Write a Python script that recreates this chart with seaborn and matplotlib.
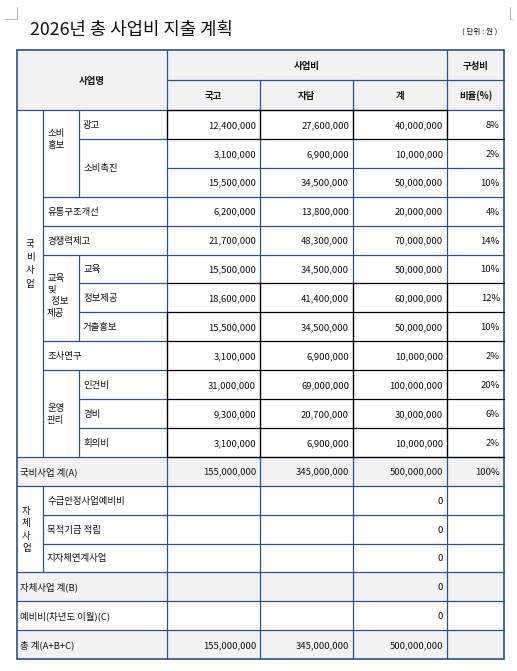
import matplotlib
matplotlib.use("Agg")
import matplotlib.pyplot as plt
import seaborn as sns
from matplotlib.patches import Rectangle

sns.set_style("white")
plt.rcParams['font.family'] = ['Noto Sans CJK KR', 'DejaVu Sans']

title = "2026년 총 사업비 지출 계획"
unit = "( 단위 : 원 )"
# national project rows
gov = [12400000, 3100000, 15500000, 6200000, 21700000, 15500000, 18600000, 15500000, 3100000, 31000000, 9300000, 3100000]
own = [27600000, 6900000, 34500000, 13800000, 48300000, 34500000, 41400000, 34500000, 6900000, 69000000, 20700000, 6900000]
tot = [40000000, 10000000, 50000000, 20000000, 70000000, 50000000, 60000000, 50000000, 10000000, 100000000, 30000000, 10000000]
pct = ["8%", "2%", "10%", "4%", "14%", "10%", "12%", "10%", "2%", "20%", "6%", "2%"]
sum_a = [155000000, 345000000, 500000000, "100%"]
self_items = ["수급안정사업예비비", "목적기금 적립", "지자체연계사업"]
self_tot = [0, 0, 0]
sum_b = 0
reserve = 0
grand = [155000000, 345000000, 500000000]

W, H = 517, 671
fig = plt.figure(figsize=(W/100, H/100), dpi=100)
ax = fig.add_axes([0, 0, 1, 1])
ax.set_xlim(0, W); ax.set_ylim(H, 0); ax.axis('off')

X = [17, 43, 79, 167, 260, 353, 447, 504]
top, h0 = 50, 30
rh = 28.9
Y = [top, top+h0, top+2*h0] + [top+2*h0+rh*(i+1) for i in range(19)]
blue = '#2f4f8f'
gray = '#f2f2f2'
fs = 6.8

def fill(x0, y0, x1, y1, c=gray):
    ax.add_patch(Rectangle((x0, y0), x1-x0, y1-y0, facecolor=c, edgecolor='none', zorder=0))
def hl(y, x0, x1, c=blue, lw=0.9):
    ax.plot([x0, x1], [y, y], color=c, lw=lw, zorder=2)
def vl(x, y0, y1, c=blue, lw=0.9):
    ax.plot([x, x], [y0, y1], color=c, lw=lw, zorder=2)
def txt(x, y, s, ha='left', **k):
    ax.text(x, y + 1, s, ha=ha, va='center', fontsize=fs, color='#111', **k)
def fmt(v):
    return f"{v:,}" if isinstance(v, int) else v

ax.text(30, 30, title, fontsize=12.8, va='center', ha='left', color='#111')
ax.text(497, 32, unit, fontsize=5.5, va='center', ha='right', color='#111')

# fills
fill(X[0], Y[0], X[7], Y[2])
for r in (12, 16, 18):
    fill(X[0], Y[2+r], X[7], Y[3+r])

# header
txt((X[0]+X[3])/2, (Y[0]+Y[2])/2, "사업명", ha='center', fontweight='bold')
txt((X[3]+X[6])/2, (Y[0]+Y[1])/2, "사업비", ha='center', fontweight='bold')
txt((X[6]+X[7])/2, (Y[0]+Y[1])/2, "구성비", ha='center', fontweight='bold')
for i, s in enumerate(["국고", "자담", "계"]):
    txt((X[3+i]+X[4+i])/2, (Y[1]+Y[2])/2, s, ha='center', fontweight='bold')
txt((X[6]+X[7])/2, (Y[1]+Y[2])/2, "비율(%)", ha='center', fontweight='bold')

def ry(r):
    return (Y[2+r]+Y[3+r])/2

for r in range(12):
    txt(X[4]-4, ry(r), fmt(gov[r]), ha='right')
    txt(X[5]-4, ry(r), fmt(own[r]), ha='right')
    txt(X[6]-4, ry(r), fmt(tot[r]), ha='right')
    txt(X[7]-4, ry(r), pct[r], ha='right')

txt((X[0]+X[1])/2, (Y[2]+Y[14])/2 - 20, "국\n비\n사\n업", ha='center', linespacing=1.6)
txt(X[1]+4, ry(0)+14, "소비\n홍보", linespacing=1.5)
txt(X[2]+4, ry(0), "광고")
txt(X[2]+4, (Y[3]+Y[5])/2, "소비촉진")
txt(X[1]+4, ry(3), "유통구조개선")
txt(X[1]+4, ry(4), "경쟁력제고")
txt(X[1]+4, ry(6)-3, "교육\n및\n  정보\n제공", linespacing=1.35)
for r, s in ((5, "교육"), (6, "정보제공"), (7, "거출홍보")):
    txt(X[2]+4, ry(r), s)
txt(X[1]+4, ry(8), "조사연구")
txt(X[1]+4, ry(10), "운영\n관리", linespacing=1.5)
for r, s in ((9, "인건비"), (10, "경비"), (11, "회의비")):
    txt(X[2]+4, ry(r), s)

txt(X[0]+3, ry(12), "국비사업 계(A)")
for i, v in enumerate(sum_a):
    txt(X[4+i]-4, ry(12), fmt(v), ha='right')
txt(X[0]+5, (Y[15]+Y[18])/2, "자\n체\n사\n업", linespacing=1.5)
for i, s in enumerate(self_items):
    txt(X[1]+4, ry(13+i), s)
    txt(X[6]-4, ry(13+i), fmt(self_tot[i]), ha='right')
txt(X[0]+3, ry(16), "자체사업 계(B)")
txt(X[6]-4, ry(16), fmt(sum_b), ha='right')
txt(X[0]+3, ry(17), "예비비(차년도 이월)(C)")
txt(X[6]-4, ry(17), fmt(reserve), ha='right')
txt(X[0]+3, ry(18), "총 계(A+B+C)")
for i, v in enumerate(grand):
    txt(X[4+i]-4, ry(18), fmt(v), ha='right')

# grid lines
hl(Y[0], X[0], X[7], lw=1.2); hl(Y[-1], X[0], X[7], lw=1.2)
vl(X[0], Y[0], Y[-1], lw=1.2); vl(X[7], Y[0], Y[-1], lw=1.2)
hl(Y[1], X[3], X[7]); hl(Y[2], X[0], X[7])
vl(X[3], Y[0], Y[-1]); vl(X[6], Y[0], Y[-1])
vl(X[4], Y[1], Y[-1]); vl(X[5], Y[1], Y[-1])
vl(X[1], Y[2], Y[14]); vl(X[1], Y[15], Y[18])
vl(X[2], Y[2], Y[5]); vl(X[2], Y[7], Y[10]); vl(X[2], Y[11], Y[14])
hl(Y[3], X[2], X[3]); hl(Y[4], X[3], X[7])
hl(Y[5], X[1], X[7]); hl(Y[6], X[1], X[7]); hl(Y[7], X[1], X[7])
hl(Y[8], X[2], X[3]); hl(Y[9], X[2], X[3])
hl(Y[10], X[1], X[3]); hl(Y[11], X[1], X[3])
hl(Y[12], X[2], X[3]); hl(Y[13], X[2], X[3])
hl(Y[14], X[0], X[7])
for k in (15, 16, 17):
    hl(Y[k], X[1] if k != 15 else X[0], X[7])
hl(Y[18], X[0], X[7]); hl(Y[19], X[0], X[7]); hl(Y[20], X[0], X[7])
hl(Y[2], X[3], X[6], c='black'); hl(Y[3], X[3], X[7], c='black')
for k in range(8, 15):
    hl(Y[k], X[3], X[7], c='black')
for x in (X[3], X[4], X[5], X[6]):
    vl(x, Y[2], Y[3], c='black')
for x in (X[4], X[5], X[6]):
    vl(x, Y[8], Y[14], c='black')
vl(X[3], Y[9], Y[14], c='black')

ax.plot([5, 17, 17], [19, 19, 7], color='#aaa', lw=0.6)
ax.plot([512, 510, 510], [19, 19, 7], color='#aaa', lw=0.6)

fig.savefig("out.png", dpi=100)
